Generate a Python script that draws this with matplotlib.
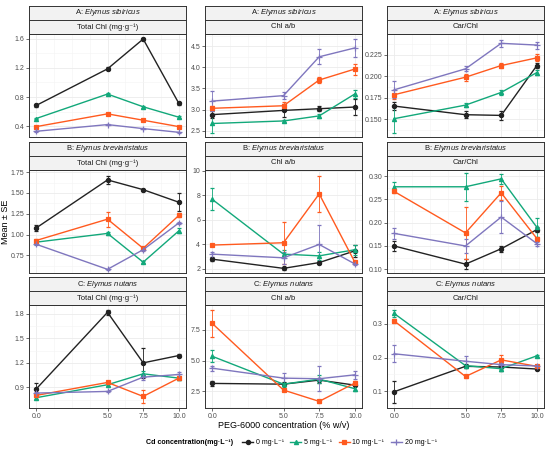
import numpy as np
import matplotlib
matplotlib.use("Agg")
import matplotlib.pyplot as plt
from matplotlib.lines import Line2D
from matplotlib.ticker import FormatStrFormatter, MultipleLocator

plt.rcParams['font.family'] = ['Liberation Sans', 'DejaVu Sans']
plt.rcParams['mathtext.fontset'] = 'custom'
plt.rcParams['mathtext.rm'] = 'Liberation Sans'
plt.rcParams['mathtext.it'] = 'Liberation Sans:italic'

peg = [0, 5, 7.5, 10]
cd_labels = ["0 mg·L⁻¹", "5 mg·L⁻¹", "10 mg·L⁻¹", "20 mg·L⁻¹"]
species = ["A: $\\mathit{Elymus\\ sibiricus}$",
           "B: $\\mathit{Elymus\\ breviaristatus}$",
           "C: $\\mathit{Elymus\\ nutans}$"]
variables = ["Total Chl (mg·g⁻¹)", "Chl a/b", "Car/Chl"]

# rows: 0, 5, 10, 20 mg/L Cd
a_total_mean = [[0.685, 1.186, 1.595, 0.713], [0.506, 0.841, 0.667, 0.524],
                [0.395, 0.570, 0.483, 0.395], [0.331, 0.423, 0.368, 0.317]]
a_total_se = [[0.02, 0.02, 0.02, 0.02], [0.01, 0.015, 0.01, 0.01],
              [0.01, 0.01, 0.01, 0.01], [0.01, 0.01, 0.01, 0.01]]
a_ab_mean = [[2.88, 2.98, 3.02, 3.06], [2.67, 2.73, 2.85, 3.37],
             [3.03, 3.09, 3.70, 3.96], [3.20, 3.33, 4.25, 4.46]]
a_ab_se = [[0.08, 0.15, 0.06, 0.18], [0.22, 0.03, 0.05, 0.10],
           [0.05, 0.10, 0.08, 0.13], [0.24, 0.08, 0.18, 0.22]]
a_car_mean = [[0.1654, 0.1554, 0.1546, 0.2123], [0.1508, 0.1665, 0.1812, 0.2042],
              [0.1785, 0.1988, 0.2123, 0.2212], [0.1842, 0.2085, 0.2380, 0.2360]]
a_car_se = [[0.005, 0.004, 0.005, 0.003], [0.016, 0.002, 0.003, 0.003],
            [0.005, 0.004, 0.003, 0.004], [0.010, 0.003, 0.004, 0.004]]

b_total_mean = [[1.079, 1.656, 1.539, 1.388], [0.909, 1.014, 0.669, 1.045],
                [0.929, 1.185, 0.835, 1.230], [0.884, 0.583, 0.819, 1.140]]
b_total_se = [[0.04, 0.05, 0.01, 0.11], [0.02, 0.02, 0.01, 0.03],
              [0.02, 0.09, 0.02, 0.02], [0.01, 0.01, 0.01, 0.01]]
b_ab_mean = [[2.80, 2.05, 2.52, 3.48], [7.69, 3.21, 3.07, 3.57],
             [3.95, 4.14, 8.13, 2.55], [3.21, 2.91, 4.00, 2.41]]
b_ab_se = [[0.15, 0.10, 0.10, 0.50], [0.90, 0.30, 0.30, 0.40],
           [0.10, 1.70, 1.50, 0.10], [0.20, 0.50, 1.60, 0.10]]
b_car_mean = [[0.150, 0.111, 0.144, 0.185], [0.277, 0.277, 0.294, 0.190],
              [0.267, 0.178, 0.264, 0.166], [0.177, 0.150, 0.212, 0.155]]
b_car_se = [[0.010, 0.010, 0.006, 0.005], [0.010, 0.030, 0.010, 0.020],
            [0.004, 0.055, 0.015, 0.004], [0.012, 0.015, 0.035, 0.004]]

c_total_mean = [[0.880, 1.820, 1.201, 1.291], [0.774, 0.933, 1.067, 1.014],
                [0.802, 0.961, 0.790, 1.014], [0.831, 0.851, 1.026, 1.059]]
c_total_se = [[0.08, 0.03, 0.18, 0.02], [0.02, 0.02, 0.03, 0.02],
              [0.02, 0.02, 0.08, 0.02], [0.01, 0.01, 0.03, 0.03]]
c_ab_mean = [[3.15, 3.09, 3.42, 3.01], [5.36, 3.09, 3.50, 2.72],
             [8.04, 2.61, 1.69, 3.18], [4.39, 3.58, 3.53, 3.85]]
c_ab_se = [[0.2, 0.1, 0.2, 0.1], [0.5, 0.2, 0.3, 0.2],
           [1.1, 0.1, 0.15, 0.2], [0.2, 0.4, 1.0, 0.3]]
c_car_mean = [[0.099, 0.174, 0.172, 0.166], [0.330, 0.176, 0.167, 0.205],
              [0.308, 0.144, 0.193, 0.174], [0.211, 0.189, 0.179, 0.175]]
c_car_se = [[0.033, 0.005, 0.012, 0.004], [0.010, 0.004, 0.006, 0.003],
            [0.005, 0.003, 0.015, 0.004], [0.025, 0.015, 0.005, 0.004]]

colors = ["#222222", "#12A87A", "#FF5A1F", "#7F76BE"]
markers = ["o", "^", "s", "+"]

panels = [
    [(a_total_mean, a_total_se, (0.253, 1.664), 0.4, "%.1f"),
     (a_ab_mean, a_ab_se, (2.35, 4.79), 0.5, "%.1f"),
     (a_car_mean, a_car_se, (0.1296, 0.2488), 0.025, "%.3f")],
    [(b_total_mean, b_total_se, (0.539, 1.775), 0.25, "%.2f"),
     (b_ab_mean, b_ab_se, (1.67, 10.08), 2, "%d"),
     (b_car_mean, b_car_se, (0.092, 0.313), 0.05, "%.2f")],
    [(c_total_mean, c_total_se, (0.648, 1.91), 0.3, "%.1f"),
     (c_ab_mean, c_ab_se, (1.15, 9.53), 2.5, "%.1f"),
     (c_car_mean, c_car_se, (0.051, 0.355), 0.1, "%.1f")],
]

W, H = 550, 450
fig = plt.figure(figsize=(5.5, 4.5), dpi=100)

col_left = [29, 205, 387]
col_w = 157
row_top = [34, 170, 305]
row_h = 103
strip_h = 14

edge = "#333333"
for r in range(3):
    for c in range(3):
        mean, se, ylim, step, fmt = panels[r][c]
        x0 = col_left[c] / W
        y0 = 1 - (row_top[r] + row_h) / H
        ax = fig.add_axes([x0, y0, col_w / W, row_h / H])
        for k in range(4):
            ax.errorbar(peg, mean[k], yerr=se[k], color=colors[k], marker=markers[k],
                        markersize=3.0 if markers[k] != "+" else 4, mew=0.9,
                        lw=1.0, elinewidth=0.6, capsize=1.6, capthick=0.6, zorder=3)
        ax.set_xlim(-0.5, 10.5)
        ax.set_ylim(*ylim)
        ax.set_xticks(peg)
        ax.xaxis.set_minor_locator(MultipleLocator(1.25))
        ax.yaxis.set_major_locator(MultipleLocator(step))
        ax.yaxis.set_minor_locator(MultipleLocator(step / 2))
        ax.yaxis.set_major_formatter(FormatStrFormatter(fmt))
        ax.grid(True, which="major", color="#EBEBEB", lw=0.6, zorder=0)
        ax.grid(True, which="minor", color="#F4F4F4", lw=0.4, zorder=0)
        ax.tick_params(which="minor", length=0)
        ax.tick_params(which="major", length=2, width=0.5, color="#333333",
                       labelsize=5, labelcolor="#4D4D4D", pad=1.5)
        if r < 2:
            ax.tick_params(axis="x", labelbottom=False, length=0)
        else:
            ax.set_xticklabels(["0.0", "5.0", "7.5", "10.0"])
        for s in ax.spines.values():
            s.set_color(edge)
            s.set_linewidth(0.7)

        # two strips above the panel
        for j, label in enumerate([species[r], variables[c]]):
            sy = 1 - (row_top[r] - strip_h * (2 - j) + strip_h) / H
            sax = fig.add_axes([x0, sy, col_w / W, strip_h / H])
            sax.set_facecolor("#F2F2F2")
            sax.set_xticks([])
            sax.set_yticks([])
            for s in sax.spines.values():
                s.set_color(edge)
                s.set_linewidth(0.7)
            sax.text(0.5, 0.5, label, ha="center", va="center", fontsize=5.5,
                     color="#1A1A1A", transform=sax.transAxes)

fig.text(6 / W, 1 - 222 / H, "Mean ± SE", rotation=90, ha="center", va="center",
         fontsize=6.5)
fig.text((205 + col_w / 2) / W, 1 - 426 / H, "PEG-6000 concentration (% w/v)",
         ha="center", va="center", fontsize=6.5)

fig.text(146 / W, 1 - 443 / H, "Cd concentration(mg·L⁻¹)", ha="left", va="center",
         fontsize=5.1, fontweight="bold")
handles = [Line2D([0], [0], color=colors[k], marker=markers[k], lw=1.0,
                  markersize=3.0 if markers[k] != "+" else 4, mew=0.9)
           for k in range(4)]
fig.legend(handles, cd_labels, loc="center left", bbox_to_anchor=(242 / W, 1 - 443 / H),
           ncol=4, frameon=False, fontsize=5, handlelength=1.6, columnspacing=0.9,
           handletextpad=0.4, borderaxespad=0, borderpad=0)

fig.savefig("out.png", dpi=100)
